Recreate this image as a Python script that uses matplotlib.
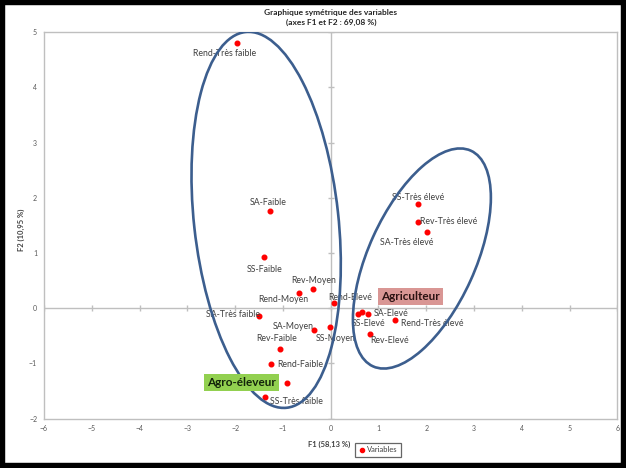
import matplotlib
matplotlib.use('Agg')
import matplotlib.pyplot as plt
import matplotlib.transforms as mtransforms
from matplotlib.patches import Ellipse, Rectangle
import numpy as np

plt.rcParams['font.family'] = ['Lato', 'DejaVu Sans']

# coordonnées des modalités sur F1 / F2
noms = ['Rend-Très faible', 'SA-Faible', 'SS-Faible', 'Rev-Moyen', 'Rend-Moyen',
        'Rend-Elevé', 'SA-Très faible', 'SA-Moyen', 'SS-Moyen', 'SS-Très élevé',
        'Rev-Très élevé', 'SA-Très élevé', 'SS-Elevé', '', 'SA-Elevé',
        'Rend-Très élevé', 'Rev-Elevé', 'Rev-Faible', 'Rend-Faible', '',
        'SS-Très faible']
f1 = [-1.95, -1.26, -1.39, -0.37, -0.66, 0.06, -1.50, -0.34, -0.01, 1.83,
      1.83, 2.01, 0.58, 0.65, 0.79, 1.35, 0.82, -1.07, -1.25, -0.91, -1.37]
f2 = [4.81, 1.76, 0.92, 0.34, 0.27, 0.10, -0.15, -0.39, -0.34, 1.88,
      1.56, 1.38, -0.10, -0.07, -0.11, -0.22, -0.46, -0.74, -1.01, -1.36, -1.61]

xticks = list(range(-6, 7))
yticks = list(range(-2, 6))

# décalage des étiquettes (points)
decal = [(-9.4, -7.9), (-1.4, 5.8), (0, -8.6), (0.7, 6.5), (-11.5, -4.3),
         (12.2, 3.6), (-18.7, 1.4), (-15.1, 2.2), (4.3, -8.6), (0, 5.0),
         (22.3, 0.7), (-14.4, -7.2), (7.2, -7.2), (0, 0), (16.6, 0.7),
         (26.6, -2.2), (14.4, -5.0), (-2.2, 7.2), (20.9, -0.7), (0, 0),
         (22.3, -2.9)]

fig = plt.figure(figsize=(6.26, 4.68), dpi=100)
ax = fig.add_axes([44/626, 1-418.5/468, (617.3-44)/626, (418.5-32.3)/468])

gris = '#BFBFBF'
ax.set_xlim(-6, 6)
ax.set_ylim(-2, 5)
ax.set_xticks(xticks)
ax.set_yticks(yticks)
ax.tick_params(length=0, labelsize=5, labelcolor='#595959', pad=5)
for s in ax.spines.values():
    s.set_color(gris)
    s.set_linewidth(1)

ax.axhline(0, color=gris, lw=1, zorder=1)
ax.axvline(0, color=gris, lw=1, zorder=1)
ax.plot(xticks, np.zeros(len(xticks)), ls='none', marker='|', ms=4, color=gris, mew=1, zorder=1)
ax.plot(np.zeros(len(yticks)), yticks, ls='none', marker='_', ms=4, color=gris, mew=1, zorder=1)

ax.scatter(f1, f2, s=11, color='#FF0000', zorder=3, label='Variables')
for n, x, y, d in zip(noms, f1, f2, decal):
    if n:
        ax.annotate(n, (x, y), xytext=d, textcoords='offset points',
                    ha='center', va='center', fontsize=6.3, color='#404040', zorder=4)

# ellipses de regroupement (taille en pouces)
bleu = '#3C5E8E'
for cx, cy, w, h, ang in [(-1.35, 1.60, 1.444, 3.78, 6.25),
                          (1.91, 0.90, 1.068, 2.368, -24.4)]:
    tr = fig.dpi_scale_trans + mtransforms.ScaledTranslation(cx, cy, ax.transData)
    ax.add_patch(Ellipse((0, 0), w, h, angle=ang, transform=tr, fill=False,
                         edgecolor=bleu, lw=1.9, zorder=5))

ax.text(1.67, 0.21, 'Agriculteur', ha='center', va='center', fontsize=8.5,
        fontweight='bold', color='#2B1212', zorder=6,
        bbox=dict(facecolor='#D99694', edgecolor='none', boxstyle='square,pad=0.25'))
ax.text(-1.86, -1.35, 'Agro-éleveur', ha='center', va='center', fontsize=8.5,
        fontweight='bold', color='#12220A', zorder=6,
        bbox=dict(facecolor='#92D050', edgecolor='none', boxstyle='square,pad=0.25'))

fig.text(331/626, 1-12/468, 'Graphique symétrique des variables', ha='center', va='center',
         fontsize=6, fontweight='bold', color='#262626')
fig.text(331/626, 1-22/468, '(axes F1 et F2 : 69,08 %)', ha='center', va='center',
         fontsize=6, fontweight='bold', color='#262626')
fig.text(329/626, 1-444/468, 'F1 (58,13 %)', ha='center', va='center',
         fontsize=5.5, fontweight='bold', color='#404040')
fig.text(21/626, 1-230/468, 'F2 (10,95 %)', ha='center', va='center', rotation=90,
         fontsize=5.5, fontweight='bold', color='#404040')

leg = fig.legend(loc='center', bbox_to_anchor=(378/626, 1-450/468), fontsize=5.5,
                 frameon=True, fancybox=False, handletextpad=0.1, borderpad=0.5,
                 markerscale=0.9, handlelength=1)
leg.get_frame().set_edgecolor('#404040')
leg.get_frame().set_linewidth(0.9)
for t in leg.get_texts():
    t.set_color('#404040')

fig.add_artist(Rectangle((0, 0), 1, 1, transform=fig.transFigure, fill=False,
                         edgecolor='black', lw=7.5, clip_on=False))

fig.savefig('out.png', dpi=100)
